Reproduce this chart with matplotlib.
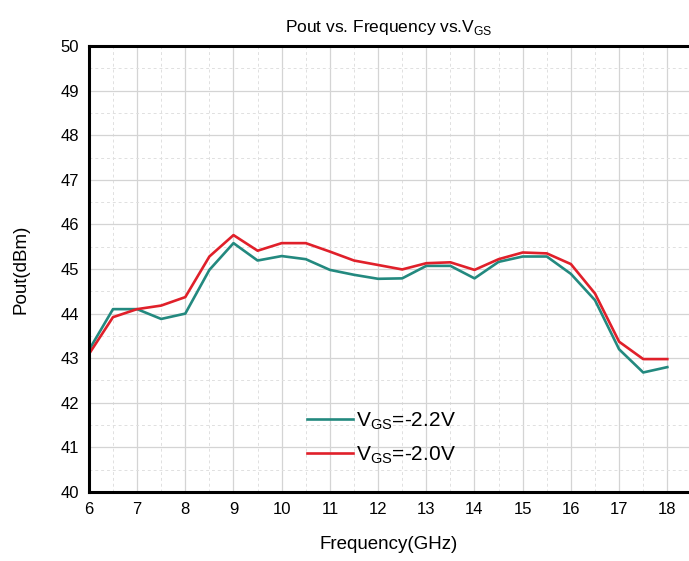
import numpy as np
import matplotlib.pyplot as plt
from matplotlib.ticker import MultipleLocator

plt.rcParams['font.family'] = ['Liberation Sans', 'DejaVu Sans']
plt.rcParams['mathtext.fontset'] = 'custom'
plt.rcParams['mathtext.rm'] = 'Liberation Sans'

freq = np.arange(6, 18.01, 0.5)
# Pout (dBm)
vgs_22 = [43.18, 44.10, 44.10, 43.88, 44.00, 44.98, 45.58, 45.19, 45.29, 45.22,
          44.98, 44.87, 44.78, 44.79, 45.07, 45.07, 44.79, 45.16, 45.28, 45.28,
          44.89, 44.30, 43.20, 42.68, 42.80]
vgs_20 = [43.09, 43.92, 44.10, 44.18, 44.37, 45.28, 45.76, 45.41, 45.58, 45.58,
          45.39, 45.19, 45.09, 44.99, 45.13, 45.15, 44.98, 45.22, 45.37, 45.35,
          45.11, 44.45, 43.37, 42.98, 42.98]

fig = plt.figure(figsize=(6.89, 5.61), dpi=100)
ax = fig.add_axes([0.129, 0.123, 0.871, 0.795])

ax.plot(freq, vgs_22, color='#23897f', lw=1.9, label=r'V$_{\mathregular{GS}}$=-2.2V')
ax.plot(freq, vgs_20, color='#e0202a', lw=1.9, label=r'V$_{\mathregular{GS}}$=-2.0V')

ax.set_xlim(6, 18.45)
ax.set_ylim(40, 50)
ax.xaxis.set_major_locator(MultipleLocator(1))
ax.yaxis.set_major_locator(MultipleLocator(1))
ax.xaxis.set_minor_locator(MultipleLocator(0.5))
ax.yaxis.set_minor_locator(MultipleLocator(0.5))
ax.set_xticks(np.arange(6, 19, 1))
ax.grid(which='major', color='#d4d4d4', lw=0.9)
ax.grid(which='minor', color='#e0e0e0', lw=0.7, ls=(0, (3, 3)))
ax.tick_params(which='both', length=0, labelsize=12, pad=7)

for s in ['left', 'bottom', 'top']:
    ax.spines[s].set_linewidth(2.2)
ax.spines['right'].set_visible(False)

ax.set_title(r'Pout vs. Frequency vs.V$_{\mathregular{GS}}$', fontsize=12.5, pad=10)
ax.set_xlabel('Frequency(GHz)', fontsize=13.5, labelpad=14)
ax.set_ylabel('Pout(dBm)', fontsize=13.5, labelpad=22)

leg = ax.legend(loc='center', bbox_to_anchor=(0.487, 0.12), frameon=False,
                fontsize=15, handlelength=2.2, handletextpad=0.15, labelspacing=0.6)

fig.savefig('out.png', dpi=100)
